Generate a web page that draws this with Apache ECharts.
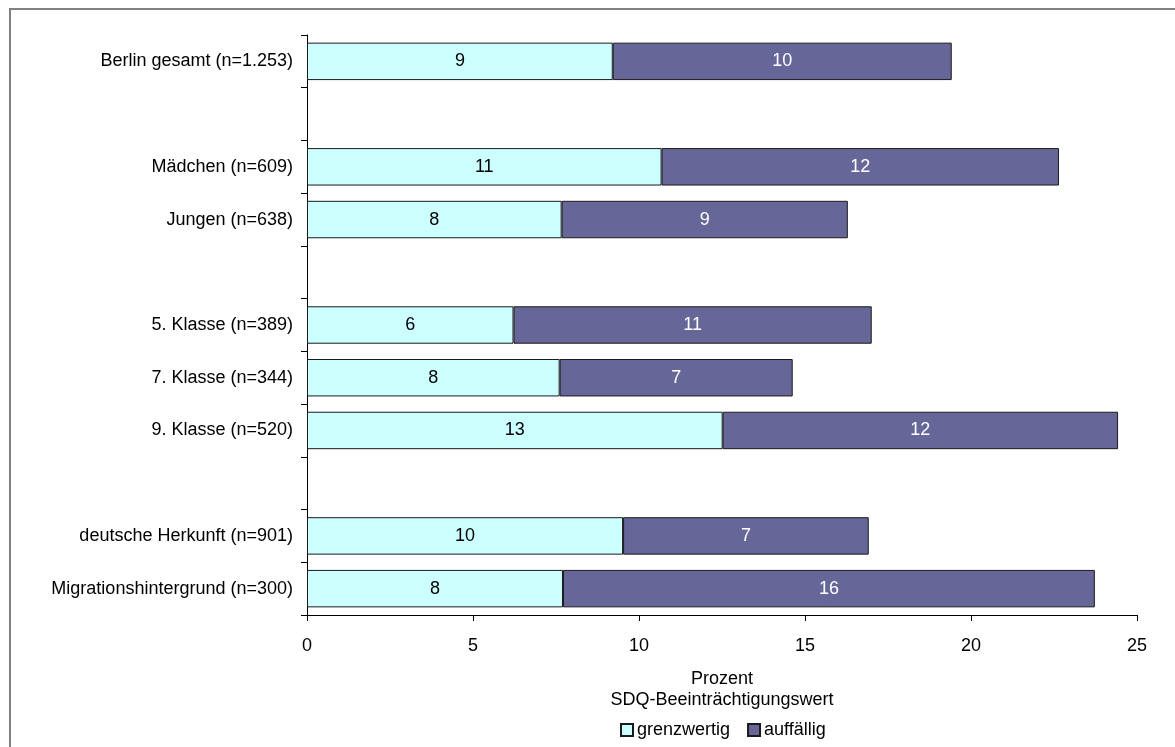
<!DOCTYPE html>
<html>
<head>
<meta charset="utf-8">
<script src="https://cdn.jsdelivr.net/npm/echarts@6/dist/echarts.min.js"></script>
<style>html,body{margin:0;padding:0;background:#fff}#c{width:1175px;height:747px}</style>
</head>
<body>
<div id="c"></div>
<script>
// Categories (blank entries are the gaps between groups)
const categories = ['Berlin gesamt (n=1.253)', ' ', 'Mädchen (n=609)', 'Jungen (n=638)', '  ',
  '5. Klasse (n=389)', '7. Klasse (n=344)', '9. Klasse (n=520)', '   ',
  'deutsche Herkunft (n=901)', 'Migrationshintergrund (n=300)'];
// Bar lengths (percent)
const grenzwertig = [9.21, null, 10.68, 7.67, null, 6.22, 7.61, 12.52, null, 9.52, 7.71];
const auffaellig  = [10.21, null, 11.97, 8.62, null, 10.79, 7.02, 11.91, null, 7.40, 16.02];
// Printed bar labels
const grenzLabels = ['9', '', '11', '8', '', '6', '8', '13', '', '10', '8'];
const auffLabels  = ['10', '', '12', '9', '', '11', '7', '12', '', '7', '16'];
const xTicks = [0, 5, 10, 15, 20, 25];

const font = 'Liberation Sans, Arial, sans-serif';
const chart = echarts.init(document.getElementById('c'));
chart.setOption({
  animation: false,
  backgroundColor: '#fff',
  textStyle: { fontFamily: font },
  graphic: [{
    type: 'rect', silent: true,
    shape: { x: 10, y: 9, width: 1400, height: 1000 },
    style: { fill: 'none', stroke: '#808080', lineWidth: 2 }
  }],
  grid: { left: 307, right: 38, top: 35, bottom: 132, containLabel: false },
  legend: {
    data: ['grenzwertig', 'auffällig'],
    left: 615, top: 716,
    icon: 'rect', itemWidth: 12, itemHeight: 12, itemGap: 17,
    textStyle: { fontSize: 18, color: '#000', fontFamily: font, padding: [0, 0, 0, -1] }
  },
  xAxis: {
    type: 'value', min: xTicks[0], max: xTicks[xTicks.length - 1], interval: 5,
    name: 'Prozent\nSDQ-Beeinträchtigungswert',
    nameLocation: 'middle', nameGap: 54,
    nameTextStyle: { fontSize: 18, color: '#000', lineHeight: 21, fontFamily: font },
    axisLine: { show: true, lineStyle: { color: '#000', width: 1 } },
    axisTick: { show: true, length: 6, lineStyle: { color: '#000' } },
    axisLabel: { fontSize: 18, color: '#000', margin: 22, fontFamily: font },
    splitLine: { show: false }
  },
  yAxis: {
    type: 'category', data: categories, inverse: true,
    axisLine: { show: true, lineStyle: { color: '#000', width: 1 } },
    axisTick: { show: true, length: 6, lineStyle: { color: '#000' } },
    axisLabel: { fontSize: 18, color: '#000', margin: 14, fontFamily: font },
    splitLine: { show: false }
  },
  series: [{
    name: 'grenzwertig', type: 'bar', stack: 'a', data: grenzwertig,
    barCategoryGap: '29%',
    itemStyle: { color: '#CCFFFF', borderColor: '#1a1a1a', borderWidth: 1 },
    label: { show: true, position: 'inside', fontSize: 18, color: '#000', fontFamily: font,
      formatter: p => grenzLabels[p.dataIndex] }
  }, {
    name: 'auffällig', type: 'bar', stack: 'a', data: auffaellig,
    barCategoryGap: '29%',
    itemStyle: { color: '#666699', borderColor: '#1a1a1a', borderWidth: 1 },
    label: { show: true, position: 'inside', fontSize: 18, color: '#fff', fontFamily: font,
      formatter: p => auffLabels[p.dataIndex] }
  }]
});
</script>
</body>
</html>
